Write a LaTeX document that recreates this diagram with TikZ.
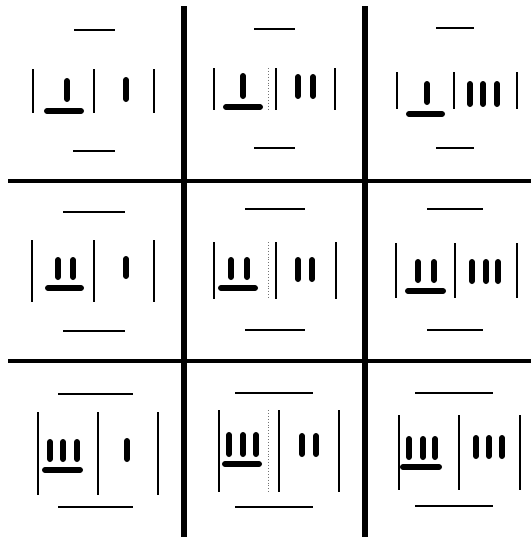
\documentclass[tikz,border=0pt]{standalone}
\begin{document}
\begin{tikzpicture}[x=1pt,y=-1pt,
  gridline/.style={line width=5.5pt,black},
  hgridline/.style={line width=4.5pt,black},
  frameline/.style={line width=1.8pt,black},
  rail/.style={line width=1.6pt,black},
  bar/.style={line width=5.8pt,line cap=round,shorten <=2.9pt,shorten >=2.9pt,black},
  guide/.style={line width=0.9pt,dotted,black!55}]
\useasboundingbox (0,0) rectangle (531,538);
% grid
\draw[gridline] (184,6) -- (184,537);
\draw[gridline] (365,6) -- (365,537);
\draw[hgridline] (8,181) -- (531,181);
\draw[hgridline] (8,361) -- (531,361);

% ---- cell (1,1)
\draw[rail] (74,30) -- (115,30);
\draw[rail] (73,151) -- (115,151);
\draw[frameline] (33,69) -- (33,113);
\draw[frameline] (94,69) -- (94,113);
\draw[frameline] (154,69) -- (154,113);
\draw[bar] (67,78) -- (67,102);
\draw[bar] (44,111) -- (84,111);
\draw[bar] (126,77) -- (126,102);

% ---- cell (1,2)
\draw[rail] (254,29) -- (295,29);
\draw[rail] (254,148) -- (295,148);
\draw[frameline] (214,68) -- (214,110);
\draw[frameline] (276,68) -- (276,110);
\draw[frameline] (335,68) -- (335,110);
\draw[guide] (268,68) -- (268,110);
\draw[bar] (243,73) -- (243,99);
\draw[bar] (223,107) -- (263,107);
\draw[bar] (298,74) -- (298,99);
\draw[bar] (313,74) -- (313,99);

% ---- cell (1,3)
\draw[rail] (436,28) -- (474,28);
\draw[rail] (436,148) -- (474,148);
\draw[frameline] (397,72) -- (397,109);
\draw[frameline] (454,72) -- (454,109);
\draw[frameline] (517,72) -- (517,109);
\draw[bar] (427,81) -- (427,105);
\draw[bar] (406,114) -- (445,114);
\draw[bar] (470,81) -- (470,107);
\draw[bar] (483,81) -- (483,107);
\draw[bar] (497,81) -- (497,107);

% ---- cell (2,1)
\draw[rail] (63,212) -- (125,212);
\draw[rail] (63,331) -- (125,331);
\draw[frameline] (32,240) -- (32,302);
\draw[frameline] (94,240) -- (94,302);
\draw[frameline] (154,240) -- (154,302);
\draw[bar] (58,257) -- (58,280);
\draw[bar] (73,257) -- (73,280);
\draw[bar] (45,288) -- (84,288);
\draw[bar] (126,256) -- (126,279);

% ---- cell (2,2)
\draw[rail] (245,209) -- (305,209);
\draw[rail] (245,330) -- (305,330);
\draw[frameline] (214,242) -- (214,299);
\draw[frameline] (276,242) -- (276,299);
\draw[frameline] (336,242) -- (336,299);
\draw[guide] (268,242) -- (268,299);
\draw[bar] (231,257) -- (231,280);
\draw[bar] (247,257) -- (247,280);
\draw[bar] (218,288) -- (258,288);
\draw[bar] (298,257) -- (298,282);
\draw[bar] (312,257) -- (312,282);

% ---- cell (2,3)
\draw[rail] (427,209) -- (483,209);
\draw[rail] (427,330) -- (483,330);
\draw[frameline] (396,243) -- (396,298);
\draw[frameline] (455,243) -- (455,298);
\draw[frameline] (517,243) -- (517,298);
\draw[bar] (418,259) -- (418,283);
\draw[bar] (434,259) -- (434,283);
\draw[bar] (405,291) -- (446,291);
\draw[bar] (472,259) -- (472,284);
\draw[bar] (486,259) -- (486,284);
\draw[bar] (498,259) -- (498,284);

% ---- cell (3,1)
\draw[rail] (58,394) -- (133,394);
\draw[rail] (58,507) -- (133,507);
\draw[frameline] (38,412) -- (38,495);
\draw[frameline] (98,412) -- (98,495);
\draw[frameline] (158,412) -- (158,495);
\draw[bar] (50,439) -- (50,462);
\draw[bar] (63,439) -- (63,462);
\draw[bar] (77,439) -- (77,462);
\draw[bar] (42,470) -- (83,470);
\draw[bar] (127,438) -- (127,462);

% ---- cell (3,2)
\draw[rail] (235,393) -- (313,393);
\draw[rail] (235,507) -- (313,507);
\draw[frameline] (219,410) -- (219,492);
\draw[frameline] (279,410) -- (279,492);
\draw[frameline] (339,410) -- (339,492);
\draw[guide] (268,410) -- (268,492);
\draw[bar] (229,432) -- (229,457);
\draw[bar] (243,432) -- (243,457);
\draw[bar] (256,432) -- (256,457);
\draw[bar] (222,464) -- (262,464);
\draw[bar] (302,433) -- (302,457);
\draw[bar] (316,433) -- (316,457);

% ---- cell (3,3)
\draw[rail] (415,393) -- (493,393);
\draw[rail] (415,506) -- (493,506);
\draw[frameline] (399,415) -- (399,490);
\draw[frameline] (459,415) -- (459,490);
\draw[frameline] (520,415) -- (520,490);
\draw[bar] (409,436) -- (409,460);
\draw[bar] (423,436) -- (423,460);
\draw[bar] (435,436) -- (435,460);
\draw[bar] (400,467) -- (442,467);
\draw[bar] (476,435) -- (476,459);
\draw[bar] (489,435) -- (489,459);
\draw[bar] (502,435) -- (502,459);
\end{tikzpicture}
\end{document}
